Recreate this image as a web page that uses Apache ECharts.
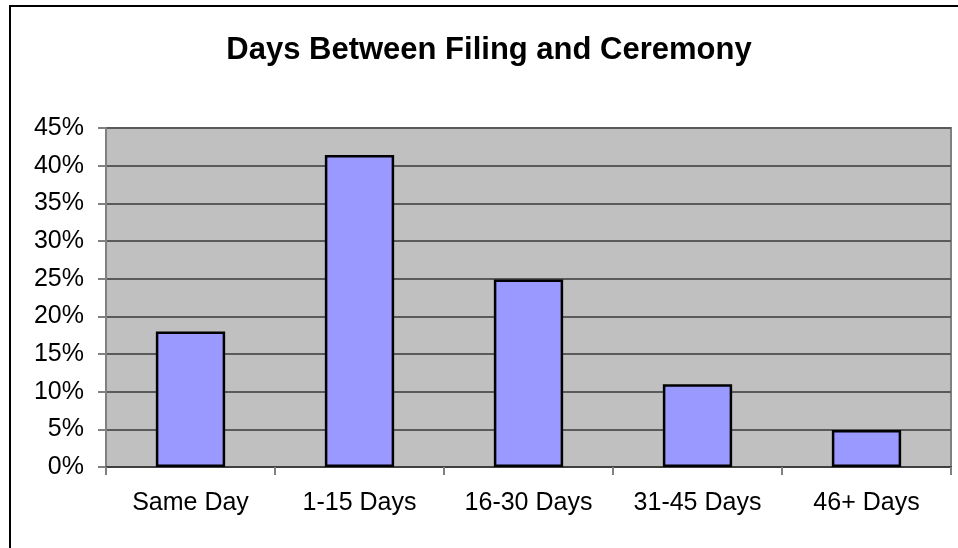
<!DOCTYPE html>
<html>
<head>
<meta charset="utf-8">
<script src="https://cdn.jsdelivr.net/npm/echarts@6/dist/echarts.min.js"></script>
<style>
  html, body { margin: 0; padding: 0; background: #fff; }
  #chart { width: 958px; height: 548px; }
</style>
</head>
<body>
<div id="chart"></div>
<script>
// 数据
const categories = ['Same Day', '1-15 Days', '16-30 Days', '31-45 Days', '46+ Days'];
const shares = [18.0, 41.4, 24.9, 11.0, 4.9]; // 百分比
const yTicks = [0, 5, 10, 15, 20, 25, 30, 35, 40, 45];

const chart = echarts.init(document.getElementById('chart'));
const font = 'Liberation Sans, Arial, sans-serif';

const option = {
  animation: false,
  backgroundColor: '#fff',
  // 外框（右侧和底部在画面外）
  graphic: [
    {
      type: 'rect',
      shape: { x: 10, y: 6, width: 1000, height: 600 },
      style: { fill: 'none', stroke: '#000', lineWidth: 2 },
      silent: true,
      z: 100
    }
  ],
  title: {
    text: 'Days Between Filing and Ceremony',
    left: 484,
    top: 30,
    textAlign: 'center',
    textStyle: {
      fontFamily: font,
      fontWeight: 'bold',
      fontSize: 31,
      color: '#000'
    }
  },
  grid: {
    left: 106,
    right: 7,
    top: 128,
    bottom: 81,
    show: true,
    backgroundColor: '#C0C0C0',
    borderColor: '#808080',
    borderWidth: 2
  },
  xAxis: {
    type: 'category',
    data: categories,
    axisLine: { lineStyle: { color: '#404040', width: 2 } },
    axisTick: { show: true, length: 8, lineStyle: { color: '#808080', width: 2 } },
    axisLabel: {
      margin: 24,
      fontFamily: font,
      fontSize: 25,
      color: '#000'
    }
  },
  yAxis: {
    type: 'value',
    min: yTicks[0],
    max: yTicks[yTicks.length - 1],
    interval: 5,
    axisLine: { show: true, lineStyle: { color: '#808080', width: 2 } },
    axisTick: { show: true, length: 8, lineStyle: { color: '#808080', width: 2 } },
    splitLine: { lineStyle: { color: '#5a5a5a', width: 2 } },
    axisLabel: {
      margin: 22,
      formatter: '{value}%',
      fontFamily: font,
      fontSize: 25,
      color: '#000'
    }
  },
  series: [
    {
      type: 'bar',
      data: shares,
      barWidth: '41%',
      itemStyle: {
        color: '#9999FF',
        borderColor: '#000',
        borderWidth: 2.5
      }
    }
  ]
};

chart.setOption(option);
</script>
</body>
</html>
